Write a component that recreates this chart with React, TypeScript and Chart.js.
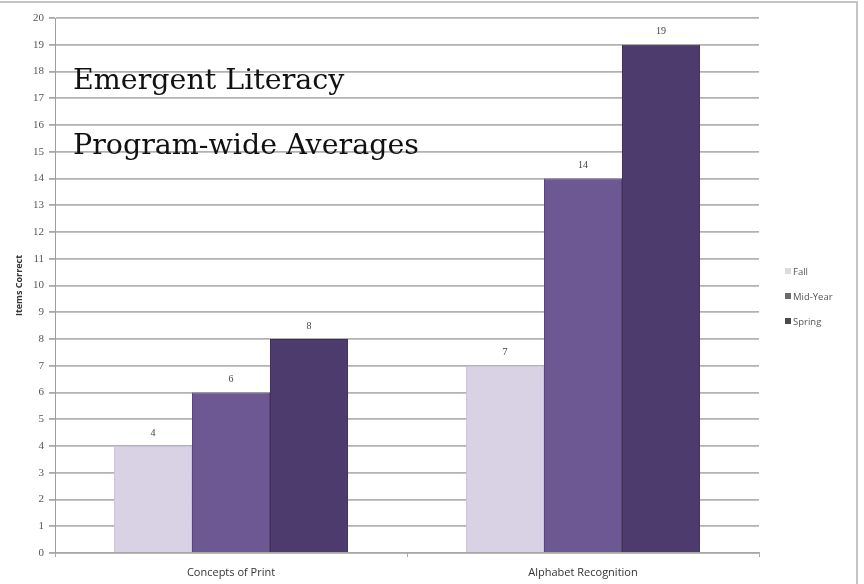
import React, { useEffect, useRef } from "react";
import { Chart, registerables } from "chart.js";

Chart.register(...registerables);

const categories = ["Concepts of Print", "Alphabet Recognition"];
const seriesNames = ["Fall", "Mid-Year", "Spring"];
const fallValues = [4, 7];
const midYearValues = [6, 14];
const springValues = [8, 19];
const titleLines = ["Emergent Literacy", "Program-wide Averages"];

const fillColors = ["#d9d1e4", "#6d5894", "#4e3b6d"];
const edgeColors = ["#cbc2d8", "#5a4680", "#3d2d58"];
const legendSwatches = ["#dcdcdc", "#6a6a6a", "#4a4a4a"];

const overlayPlugin = {
  id: "overlay",
  afterDraw(chart: any) {
    const ctx = chart.ctx as CanvasRenderingContext2D;
    ctx.save();

    // value labels above every bar
    ctx.font = "10px 'Liberation Serif', serif";
    ctx.fillStyle = "#444";
    ctx.textAlign = "center";
    ctx.textBaseline = "middle";
    chart.data.datasets.forEach((ds: any, i: number) => {
      const meta = chart.getDatasetMeta(i);
      meta.data.forEach((bar: any, j: number) => {
        ctx.fillText(String(ds.data[j]), bar.x, bar.y - 13);
      });
    });

    // heading inside the plot
    ctx.font = "28.5px 'DejaVu Serif', serif";
    ctx.fillStyle = "#111";
    ctx.textAlign = "left";
    ctx.textBaseline = "alphabetic";
    ctx.fillText(titleLines[0], 73, 89);
    ctx.fillText(titleLines[1], 73, 154);

    // legend on the right
    ctx.font = "9.5px 'Open Sans', sans-serif";
    ctx.textBaseline = "middle";
    seriesNames.forEach((name, i) => {
      const y = 272 + i * 25;
      ctx.fillStyle = legendSwatches[i];
      ctx.fillRect(785, y - 4, 6, 6);
      ctx.fillStyle = "#555";
      ctx.fillText(name, 793, y);
    });

    // outer frame
    ctx.strokeStyle = "#c4c4c4";
    ctx.lineWidth = 2;
    ctx.beginPath();
    ctx.moveTo(0, 2);
    ctx.lineTo(857, 2);
    ctx.lineTo(857, 584);
    ctx.stroke();

    ctx.restore();
  },
};

export default function App() {
  const canvasRef = useRef<HTMLCanvasElement | null>(null);

  useEffect(() => {
    if (!canvasRef.current) return;
    const datasets = [fallValues, midYearValues, springValues].map((values, i) => ({
      label: seriesNames[i],
      data: values,
      backgroundColor: fillColors[i],
      borderColor: edgeColors[i],
      borderWidth: 1,
      categoryPercentage: 0.665,
      barPercentage: 1,
    }));

    const chart = new Chart(canvasRef.current, {
      type: "bar",
      data: { labels: categories, datasets },
      options: {
        animation: false,
        responsive: true,
        maintainAspectRatio: false,
        layout: { padding: { top: 18, right: 105, left: 0, bottom: 0 } },
        plugins: {
          legend: { display: false },
          tooltip: { enabled: false },
        },
        scales: {
          x: {
            afterFit: (scale: any) => {
              scale.height = 31;
            },
            grid: {
              display: true,
              drawOnChartArea: false,
              drawTicks: true,
              tickLength: 4,
              offset: true,
              color: "#a8a8a8",
            },
            border: { display: true, color: "#a8a8a8", width: 1.5 },
            ticks: {
              padding: 9,
              color: "#333",
              font: { family: "'Open Sans', sans-serif", size: 11 },
            },
          },
          y: {
            min: 0,
            max: 20,
            afterFit: (scale: any) => {
              scale.width = 55;
            },
            grid: {
              color: "#b2b2b2",
              lineWidth: 1.8,
              drawTicks: true,
              tickLength: 6,
              tickColor: "#a8a8a8",
            },
            border: { display: true, color: "#a0a0a0", width: 1 },
            ticks: {
              stepSize: 1,
              padding: 5,
              color: "#555",
              font: { family: "'Liberation Serif', serif", size: 11 },
            },
            title: {
              display: true,
              text: "Items Correct",
              color: "#333",
              font: { family: "'Open Sans', sans-serif", size: 9, weight: "bold" },
              padding: { top: 14, bottom: 0 },
            },
          },
        },
      },
      plugins: [overlayPlugin],
    });

    return () => chart.destroy();
  }, []);

  return (
    <div
      style={{
        position: "fixed",
        left: 0,
        top: 0,
        width: 864,
        height: 584,
        background: "#fff",
      }}
    >
      <canvas ref={canvasRef} />
    </div>
  );
}
